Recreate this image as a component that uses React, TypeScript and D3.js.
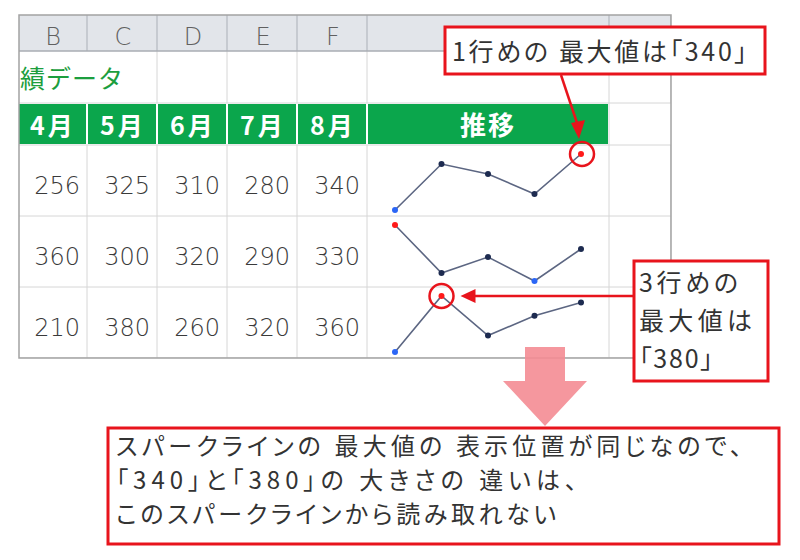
import React from 'react';
import * as d3 from 'd3';

// sheet contents
const colLetters = ['B', 'C', 'D', 'E', 'F'];
const months = ['4月', '5月', '6月', '7月', '8月'];
const row1 = [256, 325, 310, 280, 340];
const row2 = [360, 300, 320, 290, 330];
const row3 = [210, 380, 260, 320, 360];
const rows = [row1, row2, row3];

const titleText = '績データ';
const trendLabel = '推移';
const note1 = '1行めの 最大値は「340」';
const note3 = ['3行めの', '最大値は', '「380」'];
const summary = [
    'スパークラインの 最大値の 表示位置が同じなので、',
    '「340」と「380」の 大きさの 違いは、',
    'このスパークラインから読み取れない',
];

const JP = '"Noto Sans CJK JP", "Noto Sans", sans-serif';
const RED = '#e8141c';
const GREEN = '#0ba64c';
const palt = { fontFeatureSettings: '"palt" 1' };

const App: React.FC = () => {
    const left = 19, top = 15, right = 671;
    const colX = d3.scaleBand<string>().domain(months).range([17, 367]);
    const gRight = 609;
    const rowY = d3.scaleBand<number>().domain([0, 1, 2]).range([145, 358]);
    const sparkX = d3.scalePoint<string>().domain(months).range([395, 581]);

    const yScales = rows.map((r, i) => {
        const t = rowY(i)!;
        return d3.scaleLinear()
            .domain(d3.extent(r) as [number, number])
            .range([t + rowY.bandwidth() - 6, t + 9]);
    });
    const line = (r: number[], i: number) => d3.line<number>()
        .x((_, j) => sparkX(months[j])!)
        .y(v => yScales[i](v))(r);

    const maxPt = (i: number) => {
        const r = rows[i];
        const j = r.indexOf(d3.max(r)!);
        return [sparkX(months[j])!, yScales[i](r[j])];
    };
    const [c1x, c1y] = maxPt(0);
    const [c3x, c3y] = maxPt(2);

    const vEdges = [...months.map(m => colX(m)!), 367, gRight, right];
    const hEdges = [51, 103, 145, ...[0, 1, 2].map(i => rowY(i)! + rowY.bandwidth())];

    return (
        <div style={{ position: 'fixed', left: 0, top: 0 }}>
            <svg width={800} height={560} style={{ display: 'block', background: '#fff' }}>
                <defs>
                    <clipPath id="sheet">
                        <rect x={left} y={top} width={right - left} height={358 - top} />
                    </clipPath>
                </defs>

                <g clipPath="url(#sheet)">
                    {/* column header row */}
                    <rect x={left} y={top} width={right - left} height={51 - top} fill="#e2e5ea" />
                    {vEdges.map((x, i) => (
                        <line key={'hv' + i} x1={x} x2={x} y1={top} y2={51} stroke="#b4b8bf" strokeWidth={1.2} />
                    ))}
                    {colLetters.map((c, i) => (
                        <text key={c} x={colX(months[i])! + colX.bandwidth() / 2 + 1} y={45}
                            textAnchor="middle" fontFamily='"DejaVu Sans", sans-serif' fontSize={24}
                            fontWeight={300} fill="#606060">{c}</text>
                    ))}

                    {/* grid lines in body */}
                    {vEdges.map((x, i) => (
                        <g key={'bv' + i}>
                            {i !== 1 && <line x1={x} x2={x} y1={51} y2={103} stroke="#d6d6d6" />}
                            <line x1={x} x2={x} y1={145} y2={358} stroke="#d6d6d6" />
                        </g>
                    ))}
                    <line x1={gRight} x2={gRight} y1={103} y2={145} stroke="#d6d6d6" />
                    {hEdges.map((y, i) => (
                        <line key={'h' + i} x1={left} x2={right} y1={y} y2={y}
                            stroke={i === 0 ? '#a9adb3' : '#d6d6d6'} strokeWidth={i === 0 ? 1.3 : 1} />
                    ))}

                    {/* green header row */}
                    {months.map(m => (
                        <g key={m}>
                            <rect x={colX(m)! + 1} y={104} width={colX.bandwidth() - 2} height={40} fill={GREEN} />
                            <text x={colX(m)! + colX.bandwidth() / 2 + 1} y={135} textAnchor="middle"
                                fontFamily={JP} fontSize={25} fontWeight={700} letterSpacing={3} fill="#fff">{m}</text>
                        </g>
                    ))}
                    <rect x={368} y={104} width={gRight - 369} height={40} fill={GREEN} />
                    <text x={(367 + gRight) / 2} y={135} textAnchor="middle" fontFamily={JP} fontSize={26}
                        fontWeight={700} letterSpacing={2} fill="#fff">{trendLabel}</text>

                    {/* values */}
                    {rows.map((r, i) => r.map((v, j) => (
                        <text key={i + '-' + j} x={colX(months[j])! + colX.bandwidth() - 7}
                            y={rowY(i)! + rowY.bandwidth() / 2 + 13} textAnchor="end"
                            fontFamily='"DejaVu Sans", sans-serif' fontSize={24} fontWeight={300}
                            fill="#3a3a3a">{v}</text>
                    )))}

                    {/* sparklines */}
                    {rows.map((r, i) => {
                        const hi = d3.max(r)!, lo = d3.min(r)!;
                        return (
                            <g key={'sp' + i}>
                                <path d={line(r, i)!} fill="none" stroke="#5c6682" strokeWidth={1.6} />
                                {r.map((v, j) => (
                                    <circle key={j} cx={sparkX(months[j])} cy={yScales[i](v)} r={3}
                                        fill={v === hi ? '#ff1a1a' : v === lo ? '#2b66f6' : '#1d2b50'} />
                                ))}
                            </g>
                        );
                    })}
                </g>

                {/* title (overflowing from column A) */}
                <text x={20} y={88} fontFamily={JP} fontSize={25} letterSpacing={1} fill="#1c9e3e">{titleText}</text>

                {/* sheet outer border */}
                <rect x={left} y={top} width={right - left} height={358 - top} fill="none" stroke="#a3a3a3" strokeWidth={1.5} />

                {/* highlight circles */}
                <circle cx={c1x + 1} cy={c1y} r={12} fill="none" stroke={RED} strokeWidth={2.5} />
                <circle cx={c3x} cy={c3y} r={12} fill="none" stroke={RED} strokeWidth={2.5} />

                {/* arrow to row 1 max */}
                <line x1={561} y1={75} x2={c1x - 3} y2={c1y - 28} stroke={RED} strokeWidth={2.5} />
                <path d={`M${c1x - 2},${c1y - 15} L${c1x - 10},${c1y - 31} L${c1x + 4},${c1y - 34} Z`} fill={RED} />

                {/* arrow to row 3 max */}
                <line x1={634} y1={c3y} x2={c3x + 30} y2={c3y} stroke={RED} strokeWidth={2.5} />
                <path d={`M${c3x + 19},${c3y} L${c3x + 34},${c3y - 7} L${c3x + 34},${c3y + 7} Z`} fill={RED} />

                {/* callout 1 */}
                <rect x={445} y={27} width={320} height={47} fill="#fff" stroke={RED} strokeWidth={3} />
                <text x={452} y={61} fontFamily={JP} fontSize={25} textLength={295} lengthAdjust="spacing"
                    style={palt} fill="#333">{note1}</text>

                {/* callout 3 */}
                <rect x={634} y={261} width={134} height={120} fill="#fff" stroke={RED} strokeWidth={3} />
                {note3.map((t, i) => (
                    <text key={t} x={639} y={292 + i * 38} fontFamily={JP} fontSize={25}
                        textLength={[99, 113, 74][i]} lengthAdjust="spacing" style={palt} fill="#333">{t}</text>
                ))}

                {/* big pink arrow */}
                <path d="M525,347 L565,347 L565,381 L587,381 L545,426 L503,381 L525,381 Z" fill="#f48c93" fillOpacity={0.9} />

                {/* summary box */}
                <rect x={108} y={428} width={671} height={116} fill="#fff" stroke={RED} strokeWidth={3} />
                {summary.map((t, i) => (
                    <text key={i} x={116} y={455 + i * 34} fontFamily={JP} fontSize={24}
                        textLength={[626, 461, 440][i]} lengthAdjust="spacing" style={palt} fill="#333">{t}</text>
                ))}
            </svg>
        </div>
    );
};

export default App;
